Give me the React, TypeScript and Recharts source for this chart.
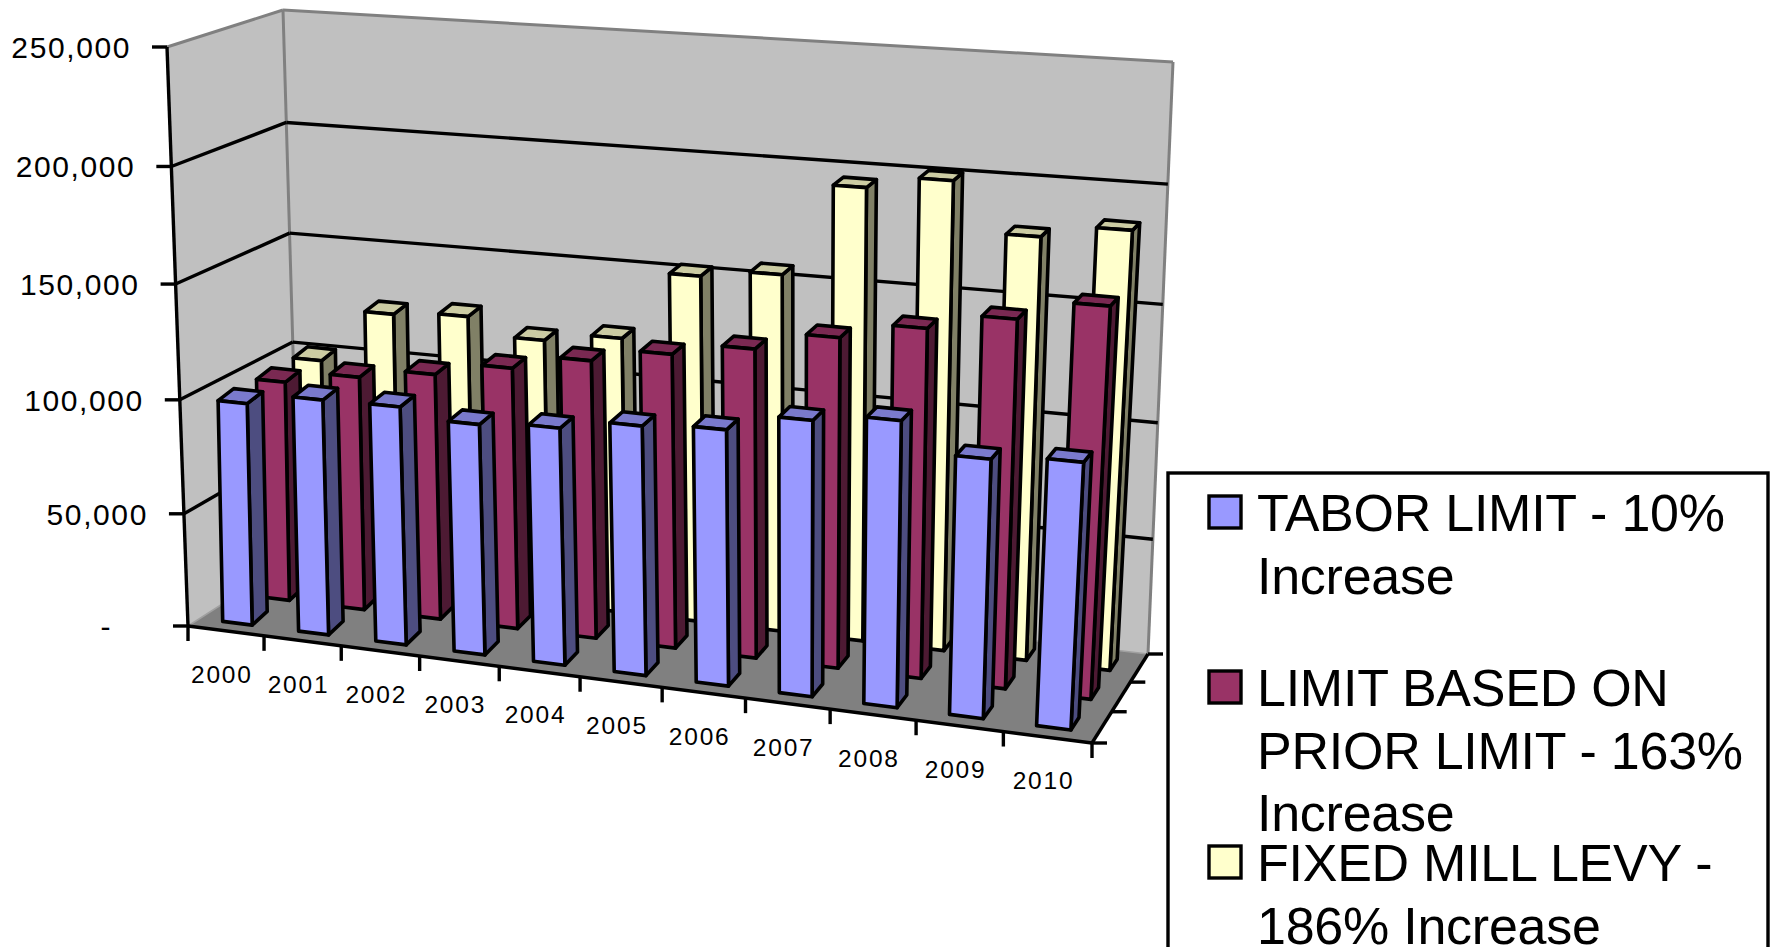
import { Bar, BarChart, Customized, Legend, XAxis, YAxis } from 'recharts';

const years = ['2000', '2001', '2002', '2003', '2004', '2005', '2006', '2007', '2008', '2009', '2010'];
const taborLimit = [98000, 103000, 103500, 99500, 101500, 106000, 108000, 115500, 119000, 107000, 109500];
const priorLimit = [98500, 104000, 108500, 114500, 121000, 127000, 132500, 140500, 147500, 154500, 163000];
const fixedLevy = [99500, 123500, 125500, 118000, 122000, 152000, 155500, 195000, 200500, 180000, 185500];
const valueTicks = [0, 50000, 100000, 150000, 200000, 250000];
const maxValue = 250000;
const legendLabels = [
  ['TABOR LIMIT - 10%', 'Increase'],
  ['LIMIT BASED ON', 'PRIOR LIMIT - 163%', 'Increase'],
  ['FIXED MILL LEVY -', '186% Increase'],
];

const data = years.map((year, i) => ({
  year,
  tabor: taborLimit[i],
  prior: priorLimit[i],
  fixed: fixedLevy[i],
}));

const WIDTH = 1775;
const HEIGHT = 947;
const FONT = '"Liberation Sans", Arial, sans-serif';
const BLUE = '#9999ff';
const MAROON = '#993366';
const YELLOW = '#ffffcc';

type Pt = [number, number];

// unit square -> quad, corners ordered (0,0) (1,0) (1,1) (0,1)
function quadMap([p0, p1, p2, p3]: Pt[]) {
  const dx1 = p1[0] - p2[0];
  const dx2 = p3[0] - p2[0];
  const sx = p0[0] - p1[0] + p2[0] - p3[0];
  const dy1 = p1[1] - p2[1];
  const dy2 = p3[1] - p2[1];
  const sy = p0[1] - p1[1] + p2[1] - p3[1];
  const det = dx1 * dy2 - dx2 * dy1;
  const g = (sx * dy2 - dx2 * sy) / det;
  const h = (dx1 * sy - sx * dy1) / det;
  const a = p1[0] - p0[0] + g * p1[0];
  const b = p3[0] - p0[0] + h * p3[0];
  const d = p1[1] - p0[1] + g * p1[1];
  const e = p3[1] - p0[1] + h * p3[1];
  return (u: number, w: number): Pt => {
    const q = g * u + h * w + 1;
    return [(a * u + b * w + p0[0]) / q, (d * u + e * w + p0[1]) / q];
  };
}

const floorMap = quadMap([[188, 626], [1092, 743], [1148, 654], [299, 555]]);
const ceilingMap = quadMap([[167, 47], [1116, 113], [1173, 62], [283, 10]]);

// u along the years, d into the page, v up the value axis (all 0..1)
function project(u: number, d: number, v: number): Pt {
  // eases the foreshortening along the year axis
  const eased = u + 0.045 * u * (1 - u);
  const f = floorMap(eased, d);
  const c = ceilingMap(eased, d);
  const t = v / (v + (1 - v) * 1.04);
  return [f[0] + (c[0] - f[0]) * t, f[1] + (c[1] - f[1]) * t];
}

const toPoints = (pts: Pt[]) => pts.map((p) => `${p[0].toFixed(1)},${p[1].toFixed(1)}`).join(' ');

function Column(props: any) {
  const { x, y, width, d0, d1, face, side, top } = props;
  const u0 = x / WIDTH;
  const u1 = (x + width) / WIDTH;
  const v = (HEIGHT - y) / HEIGHT;
  // columns lean slightly past the walls, and their footprint reads a bit steeper than the floor
  const pt = (u: number, d: number, h: number): Pt => {
    const p = project(u, d, h);
    return [p[0] + 9 * h, p[1] - (d - d0) * 30 * (1 - u)];
  };
  const common = { stroke: '#000', strokeWidth: 3.6, strokeLinejoin: 'round' as const };
  return (
    <g>
      <polygon {...common} fill={side} points={toPoints([pt(u1, d0, 0), pt(u1, d1, 0), pt(u1, d1, v), pt(u1, d0, v)])} />
      <polygon {...common} fill={top} points={toPoints([pt(u0, d0, v), pt(u1, d0, v), pt(u1, d1, v), pt(u0, d1, v)])} />
      <polygon {...common} fill={face} points={toPoints([pt(u0, d0, 0), pt(u1, d0, 0), pt(u1, d0, v), pt(u0, d0, v)])} />
    </g>
  );
}

function Walls() {
  const grid = valueTicks.filter((t) => t > 0 && t < maxValue).map((t) => t / maxValue);
  const line = (a: Pt, b: Pt, key: string, stroke = '#000', w = 3.4) => (
    <line key={key} x1={a[0]} y1={a[1]} x2={b[0]} y2={b[1]} stroke={stroke} strokeWidth={w} />
  );
  return (
    <g>
      <polygon
        fill="#c0c0c0"
        points={toPoints([project(0, 0, 0), project(0, 1, 0), project(0, 1, 1), project(0, 0, 1)])}
      />
      <polygon
        fill="#c0c0c0"
        points={toPoints([project(0, 1, 0), project(1, 1, 0), project(1, 1, 1), project(0, 1, 1)])}
      />
      <polygon
        fill="#808080"
        points={toPoints([project(0, 0, 0), project(1, 0, 0), project(1, 1, 0), project(0, 1, 0)])}
      />
      {line(project(0, 0, 1), project(0, 1, 1), 'e1', '#808080', 3)}
      {line(project(0, 1, 1), project(1, 1, 1), 'e2', '#808080', 3)}
      {line(project(0, 1, 1), project(0, 1, 0), 'e3', '#808080', 3)}
      {line(project(1, 1, 1), project(1, 1, 0), 'e4', '#808080', 3)}
      {line(project(0, 0, 0), project(0, 1, 0), 'e5', '#a0a0a0', 1.5)}
      {line(project(0, 1, 0), project(1, 1, 0), 'e6', '#a0a0a0', 1.5)}
      {grid.map((v) => (
        <g key={v}>
          {line(project(0, 0, v), project(0, 1, v), 'l')}
          {line(project(0, 1, v), project(1, 1, v), 'b')}
        </g>
      ))}
      {line(project(0, 0, 0), project(0, 0, 1), 'a1')}
      {line(project(0, 0, 0), project(1, 0, 0), 'a2')}
      {line(project(1, 0, 0), project(1, 1, 0), 'a3')}
      {[0, 1 / 3, 2 / 3, 1].map((d) => {
        const p = project(1, d, 0);
        return line(p, [p[0] + 15, p[1]], `r${d}`);
      })}
      {years.map((_, i) => {
        const p = project(i / years.length, 0, 0);
        return line(p, [p[0], p[1] + 15], `t${i}`);
      })}
      {(() => {
        const p = project(1, 0, 0);
        return line(p, [p[0], p[1] + 15], 'tend');
      })()}
    </g>
  );
}

function YearTick({ x, payload }: any) {
  const p = project(x / WIDTH, 0, 0);
  return (
    <text
      x={p[0] - 4}
      y={p[1] + 52}
      textAnchor="middle"
      fontFamily={FONT}
      fontSize={24.5}
      letterSpacing={1.8}
      fill="#000"
    >
      {payload.value}
    </text>
  );
}

function ValueTick({ y, payload }: any) {
  const p = project(0, 0, (HEIGHT - y) / HEIGHT);
  const zero = payload.value === 0;
  return (
    <g>
      <line x1={p[0] - 15} y1={p[1]} x2={p[0]} y2={p[1]} stroke="#000" strokeWidth={3.4} />
      <text
        x={p[0] - (zero ? 76 : 36)}
        y={p[1] + 11}
        textAnchor="end"
        fontFamily={FONT}
        fontSize={30}
        letterSpacing={1.6}
        fill="#000"
      >
        {zero ? '-' : payload.value.toLocaleString('en-US')}
      </text>
    </g>
  );
}

function LegendBox() {
  const colors = [BLUE, MAROON, YELLOW];
  const firstBaseline = [531, 706, 881];
  return (
    <svg width={WIDTH} height={HEIGHT} style={{ display: 'block' }}>
      <rect x={1168} y={473} width={600} height={500} fill="#fff" stroke="#000" strokeWidth={3.4} />
      {legendLabels.map((lines, i) => (
        <g key={lines[0]}>
          <rect x={1209} y={firstBaseline[i] - 35} width={32} height={32} fill={colors[i]} stroke="#000" strokeWidth={3.4} />
          {lines.map((label, j) => (
            <text
              key={label}
              x={1257}
              y={firstBaseline[i] + j * 62.5}
              fontFamily={FONT}
              fontSize={52}
              letterSpacing={-0.25}
              fill="#000"
            >
              {label}
            </text>
          ))}
        </g>
      ))}
    </svg>
  );
}

export default function App() {
  const barSize = (WIDTH / years.length) * 0.39;
  return (
    <div style={{ position: 'absolute', left: 0, top: 0, width: WIDTH, height: HEIGHT, overflow: 'hidden', background: '#fff' }}>
      <BarChart
        width={WIDTH}
        height={HEIGHT}
        data={data}
        barSize={barSize}
        barGap={-barSize}
        margin={{ top: 0, right: 0, bottom: -1, left: -1 }}
      >
        <Customized component={<Walls />} />
        <XAxis dataKey="year" height={1} axisLine={false} tickLine={false} interval={0} tick={<YearTick />} />
        <YAxis
          width={1}
          domain={[0, maxValue]}
          ticks={valueTicks}
          axisLine={false}
          tickLine={false}
          interval={0}
          tick={<ValueTick />}
        />
        <Legend
          layout="horizontal"
          align="center"
          verticalAlign="middle"
          wrapperStyle={{ position: 'absolute', left: 0, top: 0, width: WIDTH, height: HEIGHT, pointerEvents: 'none' }}
          content={<LegendBox />}
        />
        <Bar
          dataKey="fixed"
          isAnimationActive={false}
          shape={(p: any) => <Column {...p} d0={0.767} d1={0.9} face={YELLOW} side="#808066" top="#cccca3" />}
        />
        <Bar
          dataKey="prior"
          isAnimationActive={false}
          shape={(p: any) => <Column {...p} d0={0.433} d1={0.567} face={MAROON} side="#4d1a33" top="#7a2952" />}
        />
        <Bar
          dataKey="tabor"
          isAnimationActive={false}
          shape={(p: any) => <Column {...p} d0={0.1} d1={0.233} face={BLUE} side="#4d4d80" top="#7a7acc" />}
        />
      </BarChart>
    </div>
  );
}
